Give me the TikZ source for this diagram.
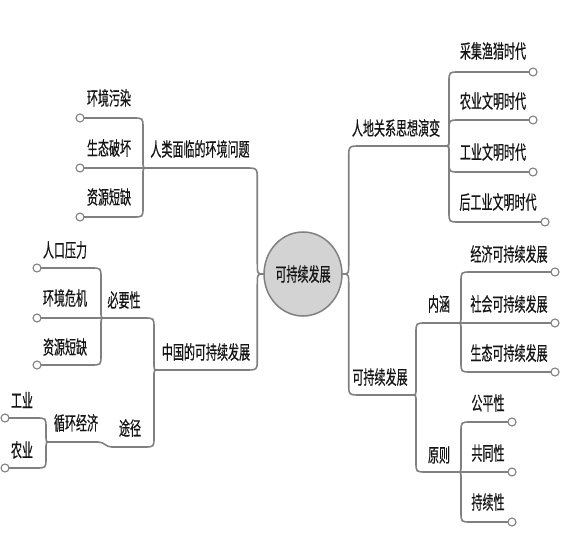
\documentclass[tikz,border=0pt]{standalone}
\usepackage{fontspec}
\newfontfamily\cjk[FakeStretch=0.58,FakeBold=0.5]{Noto Sans CJK SC}
\usetikzlibrary{calc,shapes.geometric}
\definecolor{linegray}{HTML}{808080}
\definecolor{nodegray}{HTML}{D3D3D3}
\definecolor{txt}{HTML}{141414}
\tikzset{
  conn/.style={draw=linegray, line width=1.6pt, line cap=round},
  lbl/.style={font=\cjk\fontsize{19}{22}\selectfont, inner sep=0pt, text=txt},
  dot/.style={circle, draw=linegray, fill=white, line width=1.1pt, minimum size=8pt, inner sep=0pt},
  root/.style={ellipse, draw=linegray, fill=nodegray, line width=1.5pt, minimum width=70pt, minimum height=84pt, inner sep=0pt, font=\cjk\fontsize{19}{22}\selectfont, text=txt},
}
% child connector: #1 start, #2 junction, #3 vertical sign, #4 horizontal sign
\newcommand\cl[4]{%
  \draw[conn] (#1) -- ($(#2 |- #1)+({-(#4)*14},0)$)
    .. controls ($(#2 |- #1)+({-(#4)*4},0)$) .. ($(#2 |- #1)+({-(#4)*4},{(#3)*10})$)
    -- ($(#2)+({-(#4)*4},{-(#3)*7})$)
    .. controls ($(#2)+({-(#4)*4},0)$) .. (#2);}
% main connector
\newcommand\cm[4]{%
  \draw[conn] (#1) -- ($(#2 |- #1)+({-(#4)*18},0)$)
    .. controls ($(#2 |- #1)+({-(#4)*6},0)$) .. ($(#2 |- #1)+({-(#4)*6},{(#3)*12})$)
    -- ($(#2)+({-(#4)*6},{-(#3)*12})$)
    .. controls ($(#2)+({-(#4)*6},0)$) .. (#2);}
\begin{document}
\begin{tikzpicture}[x=1pt,y=-1pt]
\useasboundingbox (0,0) rectangle (561,537);

% root
\node[root] (el) at (303,274) {可持续发展};

% junctions
\coordinate (J1) at (147,168);
\coordinate (J2) at (158,370);
\coordinate (J3) at (105,318);
\coordinate (J4) at (112,447);
\coordinate (J5) at (50,442);
\coordinate (J6) at (445,146);
\coordinate (J7) at (412,395);
\coordinate (J8) at (457,323);
\coordinate (J9) at (457,472);

% labels
\node[lbl] (a)  at (200,149) {人类面临的环境问题};
\node[lbl] (a1) at (109,98)  {环境污染};
\node[lbl] (a2) at (109,148) {生态破坏};
\node[lbl] (a3) at (109,197) {资源短缺};

\node[lbl] (b)  at (206,352) {中国的可持续发展};
\node[lbl] (b1) at (124,300) {必要性};
\node[lbl] (b11) at (65,250) {人口压力};
\node[lbl] (b12) at (65,298) {环境危机};
\node[lbl] (b13) at (65,347) {资源短缺};
\node[lbl] (b2) at (130,428) {途径};
\node[lbl] (b21) at (76,423) {循环经济};
\node[lbl] (b211) at (22,400) {工业};
\node[lbl] (b212) at (22,450) {农业};

\node[lbl] (c)  at (396,128) {人地关系思想演变};
\node[lbl] (c1) at (493,51)  {采集渔猎时代};
\node[lbl] (c2) at (493,101) {农业文明时代};
\node[lbl] (c3) at (493,152) {工业文明时代};
\node[lbl] (c4) at (498,202) {后工业文明时代};

\node[lbl] (d)  at (380,377) {可持续发展};
\node[lbl] (d1) at (439,304) {内涵};
\node[lbl] (d11) at (509,254) {经济可持续发展};
\node[lbl] (d12) at (509,304) {社会可持续发展};
\node[lbl] (d13) at (509,353) {生态可持续发展};
\node[lbl] (d2) at (439,455) {原则};
\node[lbl] (d21) at (488,403) {公平性};
\node[lbl] (d22) at (488,453) {共同性};
\node[lbl] (d23) at (488,502) {持续性};

% leaf dots (positions)
\coordinate (pa1) at (80,118);
\coordinate (pa2) at (80,168);
\coordinate (pa3) at (80,217);
\coordinate (pb11) at (37,268);
\coordinate (pb12) at (37,318);
\coordinate (pb13) at (37,365);
\coordinate (pb211) at (5,418);
\coordinate (pb212) at (5,468);
\coordinate (pc1) at (533,72);
\coordinate (pc2) at (533,120);
\coordinate (pc3) at (533,172);
\coordinate (pc4) at (545,222);
\coordinate (pd11) at (555,272);
\coordinate (pd12) at (555,323);
\coordinate (pd13) at (555,372);
\coordinate (pd21) at (512,422);
\coordinate (pd22) at (512,472);
\coordinate (pd23) at (512,522);

% main connectors
\cm{J1}{el.west}{1}{1}
\cm{J2}{el.west}{-1}{1}
\cm{J6}{el.east}{1}{-1}
\cm{J7}{el.east}{-1}{-1}

% second level
\cl{J3}{J2}{1}{1}
\cl{J4}{J2}{-1}{1}
\draw[conn] (J5) -- ($(J4)+(-14,-5)$) .. controls ($(J4)+(-7,-5)$) and ($(J4)+(-7,0)$) .. (J4);
\cl{J8}{J7}{1}{-1}
\cl{J9}{J7}{-1}{-1}

% leaves
\cl{pa1}{J1}{1}{1}
\cl{pa2}{J1}{0}{1}
\cl{pa3}{J1}{-1}{1}
\cl{pb11}{J3}{1}{1}
\cl{pb12}{J3}{0}{1}
\cl{pb13}{J3}{-1}{1}
\cl{pb211}{J5}{1}{1}
\cl{pb212}{J5}{-1}{1}
\cl{pc1}{J6}{1}{-1}
\cl{pc2}{J6}{1}{-1}
\cl{pc3}{J6}{-1}{-1}
\cl{pc4}{J6}{-1}{-1}
\cl{pd11}{J8}{1}{-1}
\cl{pd12}{J8}{0}{-1}
\cl{pd13}{J8}{-1}{-1}
\cl{pd21}{J9}{1}{-1}
\cl{pd22}{J9}{0}{-1}
\cl{pd23}{J9}{-1}{-1}

% dots on top
\foreach \p in {pa1,pa2,pa3,pb11,pb12,pb13,pb211,pb212,pc1,pc2,pc3,pc4,pd11,pd12,pd13,pd21,pd22,pd23}
  \node[dot] (n\p) at (\p) {};
\end{tikzpicture}
\end{document}
